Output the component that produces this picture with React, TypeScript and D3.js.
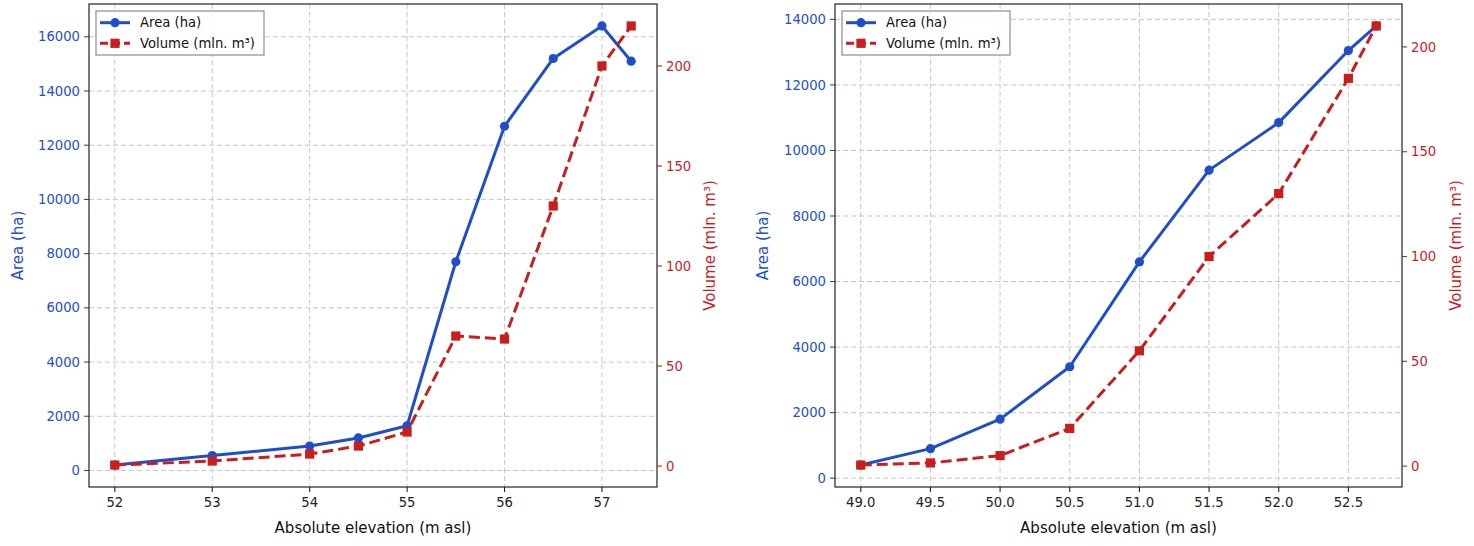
import React, { useEffect, useRef } from 'react';
import * as d3 from 'd3';

// Left panel: reservoir 1
const elevA = [52, 53, 54, 54.5, 55, 55.5, 56, 56.5, 57, 57.3];
const areaA = [200, 550, 900, 1200, 1650, 7700, 12700, 15200, 16400, 15100];
const volA = [0.5, 2.5, 6, 10, 17, 65, 63.5, 130, 200, 220];
const xTicksA = [52, 53, 54, 55, 56, 57];
const areaTicksA = [0, 2000, 4000, 6000, 8000, 10000, 12000, 14000, 16000];

// Right panel: reservoir 2
const elevB = [49.0, 49.5, 50.0, 50.5, 51.0, 51.5, 52.0, 52.5, 52.7];
const areaB = [400, 900, 1800, 3400, 6600, 9400, 10850, 13050, 13800];
const volB = [0.5, 1.5, 5, 18, 55, 100, 130, 185, 210];
const xTicksB = [49.0, 49.5, 50.0, 50.5, 51.0, 51.5, 52.0, 52.5];
const areaTicksB = [0, 2000, 4000, 6000, 8000, 10000, 12000, 14000];

const volTicks = [0, 50, 100, 150, 200];

const BLUE = '#1f4fc8';
const RED = '#c81e1e';
const FONT = '"DejaVu Sans", sans-serif';
const MR = 4.6; // marker half-size

interface Panel {
  x0: number; x1: number;
  elev: number[]; area: number[]; vol: number[];
  xTicks: number[]; areaTicks: number[];
  xFmt: (v: number) => string;
  areaLabelX: number; volLabelX: number;
}

// matplotlib-style 5% margins
function padded(vals: number[]): [number, number] {
  const [lo, hi] = d3.extent(vals) as [number, number];
  const m = (hi - lo) * 0.05;
  return [lo - m, hi + m];
}

export default function App() {
  const svgRef = useRef<SVGSVGElement>(null);

  useEffect(() => {
    if (!svgRef.current) return;
    const svg = d3.select(svgRef.current);
    svg.selectAll('*').remove();

    const top = 4, bottom = 487;
    const panels: Panel[] = [
      { x0: 89, x1: 657, elev: elevA, area: areaA, vol: volA, xTicks: xTicksA, areaTicks: areaTicksA,
        xFmt: d3.format('d'), areaLabelX: 18, volLabelX: 710 },
      { x0: 835, x1: 1402, elev: elevB, area: areaB, vol: volB, xTicks: xTicksB, areaTicks: areaTicksB,
        xFmt: d3.format('.1f'), areaLabelX: 763, volLabelX: 1456 },
    ];

    panels.forEach(p => {
      const g = svg.append('g');
      const x = d3.scaleLinear().domain(padded(p.elev)).range([p.x0, p.x1]);
      const yA = d3.scaleLinear().domain(padded(p.area)).range([bottom, top]);
      const yV = d3.scaleLinear().domain(padded(p.vol)).range([bottom, top]);

      // grid
      const grid = g.append('g').attr('stroke', '#c8c8c8').attr('stroke-width', 1)
        .attr('stroke-dasharray', '5,3');
      p.xTicks.forEach(t => grid.append('line')
        .attr('x1', x(t)).attr('x2', x(t)).attr('y1', top).attr('y2', bottom));
      p.areaTicks.forEach(t => grid.append('line')
        .attr('x1', p.x0).attr('x2', p.x1).attr('y1', yA(t)).attr('y2', yA(t)));

      // x axis
      p.xTicks.forEach(t => {
        g.append('line').attr('x1', x(t)).attr('x2', x(t)).attr('y1', bottom).attr('y2', bottom + 5)
          .attr('stroke', '#222').attr('stroke-width', 1.1);
        g.append('text').attr('x', x(t)).attr('y', bottom + 20).attr('text-anchor', 'middle')
          .attr('font-size', '13.2px').attr('font-family', FONT).attr('fill', '#222').text(p.xFmt(t));
      });
      g.append('text').attr('x', (p.x0 + p.x1) / 2).attr('y', bottom + 46).attr('text-anchor', 'middle')
        .attr('font-size', '15px').attr('font-family', FONT).attr('fill', '#111')
        .text('Absolute elevation (m asl)');

      // left (area) axis
      p.areaTicks.forEach(t => {
        g.append('line').attr('x1', p.x0 - 5).attr('x2', p.x0).attr('y1', yA(t)).attr('y2', yA(t))
          .attr('stroke', BLUE).attr('stroke-width', 1.1);
        g.append('text').attr('x', p.x0 - 9).attr('y', yA(t)).attr('dy', '0.35em').attr('text-anchor', 'end')
          .attr('font-size', '13.2px').attr('font-family', FONT).attr('fill', BLUE).text(String(t));
      });
      g.append('text').attr('transform', `translate(${p.areaLabelX},${(top + bottom) / 2}) rotate(-90)`)
        .attr('text-anchor', 'middle').attr('dy', '0.35em')
        .attr('font-size', '15px').attr('font-family', FONT).attr('fill', BLUE).text('Area (ha)');

      // right (volume) axis
      volTicks.forEach(t => {
        g.append('line').attr('x1', p.x1).attr('x2', p.x1 + 5).attr('y1', yV(t)).attr('y2', yV(t))
          .attr('stroke', RED).attr('stroke-width', 1.1);
        g.append('text').attr('x', p.x1 + 9).attr('y', yV(t)).attr('dy', '0.35em').attr('text-anchor', 'start')
          .attr('font-size', '13.2px').attr('font-family', FONT).attr('fill', RED).text(String(t));
      });
      g.append('text').attr('transform', `translate(${p.volLabelX},${(top + bottom) / 2}) rotate(-90)`)
        .attr('text-anchor', 'middle').attr('dy', '0.35em')
        .attr('font-size', '15px').attr('font-family', FONT).attr('fill', RED).text('Volume (mln. m³)');

      // area series
      const areaLine = d3.line<number>().x((_, i) => x(p.elev[i])).y(d => yA(d));
      g.append('path').datum(p.area).attr('d', areaLine).attr('fill', 'none')
        .attr('stroke', BLUE).attr('stroke-width', 3).attr('stroke-linejoin', 'round');
      p.area.forEach((d, i) => g.append('circle').attr('cx', x(p.elev[i])).attr('cy', yA(d))
        .attr('r', MR).attr('fill', BLUE));

      // volume series
      const volLine = d3.line<number>().x((_, i) => x(p.elev[i])).y(d => yV(d));
      g.append('path').datum(p.vol).attr('d', volLine).attr('fill', 'none')
        .attr('stroke', RED).attr('stroke-width', 3).attr('stroke-dasharray', '11,5');
      p.vol.forEach((d, i) => g.append('rect').attr('x', x(p.elev[i]) - MR).attr('y', yV(d) - MR)
        .attr('width', MR * 2).attr('height', MR * 2).attr('fill', RED));

      // frame
      g.append('rect').attr('x', p.x0).attr('y', top).attr('width', p.x1 - p.x0).attr('height', bottom - top)
        .attr('fill', 'none').attr('stroke', '#222').attr('stroke-width', 1.2);

      // legend
      const lx = p.x0 + 7, ly = top + 7;
      const lg = g.append('g').attr('transform', `translate(${lx},${ly})`);
      lg.append('rect').attr('width', 168).attr('height', 44).attr('fill', 'white').attr('fill-opacity', 0.85)
        .attr('stroke', '#8c8c8c').attr('stroke-width', 1.2);
      const rows = [
        { label: 'Area (ha)', color: BLUE, dash: null as string | null, shape: 'circle' },
        { label: 'Volume (mln. m³)', color: RED, dash: '8,4', shape: 'square' },
      ];
      rows.forEach((r, i) => {
        const cy = 11.7 + i * 20.6;
        lg.append('line').attr('x1', 4).attr('x2', 34).attr('y1', cy).attr('y2', cy)
          .attr('stroke', r.color).attr('stroke-width', 3).attr('stroke-dasharray', r.dash);
        if (r.shape === 'circle') lg.append('circle').attr('cx', 19).attr('cy', cy).attr('r', MR).attr('fill', r.color);
        else lg.append('rect').attr('x', 19 - MR).attr('y', cy - MR).attr('width', MR * 2).attr('height', MR * 2).attr('fill', r.color);
        lg.append('text').attr('x', 44).attr('y', cy).attr('dy', '0.35em')
          .attr('font-size', '13.2px').attr('font-family', FONT).attr('fill', '#111').text(r.label);
      });
    });
  }, []);

  return (
    <svg
      ref={svgRef}
      width={1474}
      height={546}
      style={{ position: 'absolute', left: 0, top: 0, background: 'white' }}
    />
  );
}
